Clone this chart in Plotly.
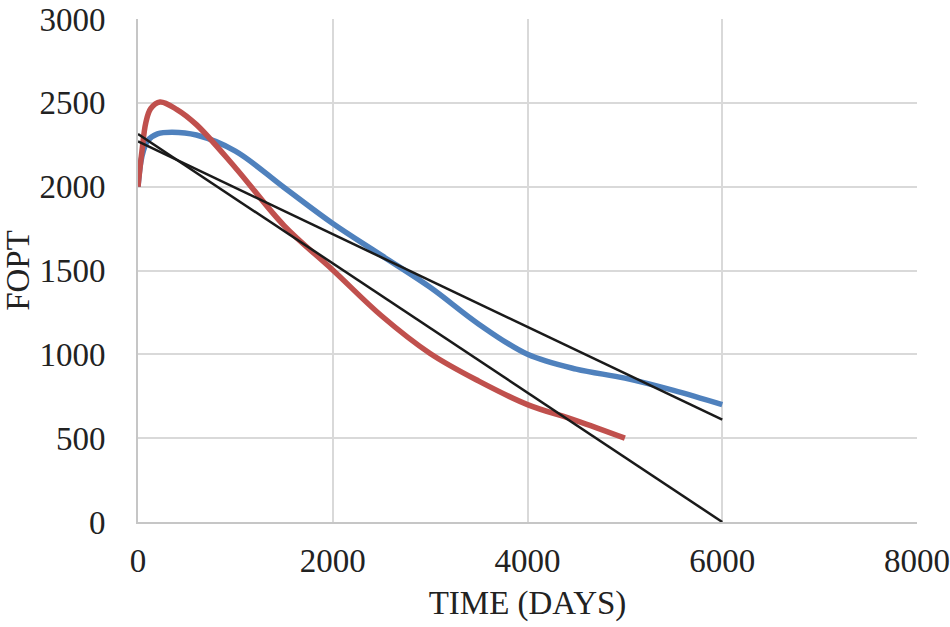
import plotly.graph_objects as go

# Blue series
blue_x = [0, 40, 100, 200, 350, 600, 1000, 1500, 2000, 2500, 3000, 3500, 4000, 4500, 5000, 5500, 6000]
blue_y = [2000, 2180, 2275, 2315, 2325, 2308, 2212, 1995, 1780, 1590, 1400, 1180, 1000, 912, 858, 785, 700]

# Red series
red_x = [0, 40, 80, 130, 226, 400, 600, 1000, 1500, 2000, 2500, 3000, 3500, 4000, 4500, 5000]
red_y = [2000, 2210, 2380, 2465, 2505, 2460, 2370, 2113, 1768, 1503, 1230, 1005, 840, 700, 605, 500]

# Black trend lines
trend1_x = [0, 6000]
trend1_y = [2314, 0]
trend2_x = [0, 6000]
trend2_y = [2270, 610]

x_ticks = [0, 2000, 4000, 6000, 8000]
y_ticks = [0, 500, 1000, 1500, 2000, 2500, 3000]

FONT = "Liberation Serif"
FS = 33

fig = go.Figure()
fig.add_trace(go.Scatter(x=blue_x, y=blue_y, mode="lines",
                         line=dict(color="#4F81BD", width=5.5, shape="spline", smoothing=1.0),
                         showlegend=False))
fig.add_trace(go.Scatter(x=red_x, y=red_y, mode="lines",
                         line=dict(color="#C0504D", width=5.5, shape="spline", smoothing=1.0),
                         showlegend=False))
fig.add_trace(go.Scatter(x=trend1_x, y=trend1_y, mode="lines",
                         line=dict(color="#1a1a1a", width=2.5), showlegend=False))
fig.add_trace(go.Scatter(x=trend2_x, y=trend2_y, mode="lines",
                         line=dict(color="#1a1a1a", width=2.5), showlegend=False))

fig.update_layout(
    width=950, height=627,
    margin=dict(l=138, r=33, t=19, b=105, autoexpand=False),
    paper_bgcolor="white", plot_bgcolor="white",
    font=dict(family=FONT, size=FS, color="#222222"),
    xaxis=dict(range=[0, 8000], tickvals=x_ticks, ticktext=[str(v) for v in x_ticks],
               showgrid=True, gridcolor="#d9d9d9", gridwidth=2,
               showline=True, linecolor="#c6c6c6", linewidth=2,
               zeroline=False, ticks="", ticklabelstandoff=8, automargin=False,
               ticklabeloverflow="allow",
               title=dict(text="TIME (DAYS)", font=dict(family=FONT, size=FS), standoff=13)),
    yaxis=dict(range=[0, 3000], tickvals=y_ticks, ticktext=[str(v) for v in y_ticks],
               showgrid=True, gridcolor="#d9d9d9", gridwidth=2,
               showline=True, linecolor="#c6c6c6", linewidth=2,
               zeroline=False, ticks="", ticklabelstandoff=24, automargin=False,
               ticklabeloverflow="allow",
               title=dict(text="FOPT", font=dict(family=FONT, size=FS), standoff=13)),
)

fig.write_html("out.html", config={"displayModeBar": False},
               post_script="document.body.style.margin='0';document.body.style.overflow='hidden';")
